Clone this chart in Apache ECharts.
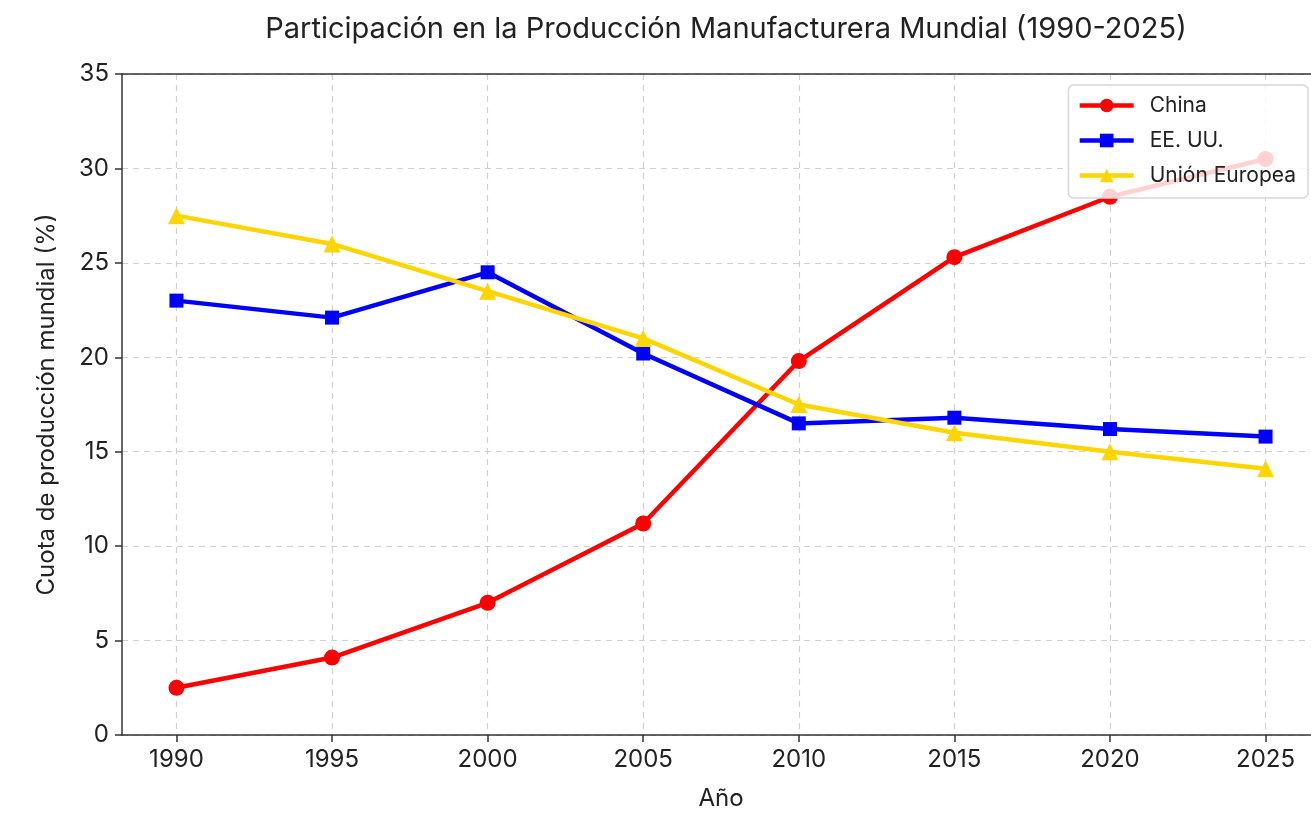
<!DOCTYPE html>
<html>
<head>
<meta charset="utf-8">
<script src="https://cdn.jsdelivr.net/npm/echarts@6/dist/echarts.min.js"></script>
<style>
  html, body { margin: 0; padding: 0; background: #fff; }
  #chart { width: 1311px; height: 832px; }
</style>
</head>
<body>
<div id="chart"></div>
<script>
    // datos
    var years = [1990, 1995, 2000, 2005, 2010, 2015, 2020, 2025];
    var china = [2.5, 4.1, 7.0, 11.2, 19.8, 25.3, 28.5, 30.5];
    var eeuu = [23.0, 22.1, 24.5, 20.2, 16.5, 16.8, 16.2, 15.8];
    var ue = [27.5, 26.0, 23.5, 21.0, 17.5, 16.0, 15.0, 14.1];
    var yTicks = [0, 5, 10, 15, 20, 25, 30, 35];

    function pairs(vals) {
        var out = [];
        for (var i = 0; i < years.length; i++) {
            out.push([years[i], vals[i]]);
        }
        return out;
    }

    var font = 'Inter, "Open Sans", sans-serif';
    var chart = echarts.init(document.getElementById('chart'));

    function lineSeries(name, color, symbol, size, vals) {
        return {
            name: name,
            type: 'line',
            data: pairs(vals),
            symbol: symbol,
            symbolSize: size,
            lineStyle: {color: color, width: 4.5},
            itemStyle: {color: color},
            emphasis: {disabled: true}
        };
    }

    var option = {
        animation: false,
        backgroundColor: '#fff',
        title: {
            text: 'Participación en la Producción Manufacturera Mundial (1990-2025)',
            left: 721,
            textAlign: 'center',
            top: 10,
            textStyle: {fontFamily: font, fontSize: 29, fontWeight: 'normal', color: '#222'}
        },
        legend: {
            right: 3,
            top: 85,
            orient: 'vertical',
            itemWidth: 54,
            itemHeight: 17,
            itemGap: 14,
            padding: [10, 12, 12, 9],
            backgroundColor: 'rgba(255,255,255,0.82)',
            borderColor: '#d6d6d6',
            borderWidth: 1.5,
            borderRadius: 5,
            lineStyle: {width: 4.5},
            textStyle: {fontFamily: font, fontSize: 21, color: '#222', padding: [0, 0, 0, 11]},
            data: ['China', 'EE. UU.', 'Unión Europea']
        },
        grid: {
            left: 122,
            width: 1198,
            top: 74,
            bottom: 97,
            outerBoundsMode: 'none'
        },
        xAxis: [{
            type: 'value',
            min: 1988.25,
            max: 2026.75,
            name: 'Año',
            nameLocation: 'middle',
            nameGap: 52,
            nameTextStyle: {fontFamily: font, fontSize: 24, color: '#222'},
            axisLine: {lineStyle: {color: '#333', width: 1.5}},
            axisTick: {show: true, customValues: years, length: 7, lineStyle: {color: '#333', width: 1.5}},
            axisLabel: {customValues: years, fontFamily: font, fontSize: 24, color: '#222', margin: 13,
                formatter: function (v) { return String(v); }},
            splitLine: {show: true, lineStyle: {color: '#d0d0d0', type: [6, 5], width: 1.2}}
        }, {
            // marco superior
            type: 'value',
            position: 'top',
            min: 1988.25,
            max: 2026.75,
            axisLine: {show: true, onZero: false, lineStyle: {color: '#333', width: 1.5}},
            axisTick: {show: false},
            axisLabel: {show: false},
            splitLine: {show: false}
        }],
        yAxis: {
            type: 'value',
            min: 0,
            max: 35,
            interval: 5,
            name: 'Cuota de producción mundial (%)',
            nameLocation: 'middle',
            nameGap: 63,
            nameTextStyle: {fontFamily: font, fontSize: 24, color: '#222'},
            axisLine: {show: true, lineStyle: {color: '#333', width: 1.5}},
            axisTick: {show: true, length: 7, lineStyle: {color: '#333', width: 1.5}},
            axisLabel: {fontFamily: font, fontSize: 24, color: '#222', margin: 13,
                formatter: function (v) { return yTicks.indexOf(v) >= 0 ? String(v) : ''; }},
            splitLine: {show: true, lineStyle: {color: '#d0d0d0', type: [6, 5], width: 1.2}}
        },
        series: [
            lineSeries('China', '#ff0000', 'circle', 16, china),
            lineSeries('EE. UU.', '#0000ff', 'rect', 14, eeuu),
            lineSeries('Unión Europea', '#ffd500', 'triangle', 17, ue)
        ]
    };

    chart.setOption(option);
</script>
</body>
</html>
